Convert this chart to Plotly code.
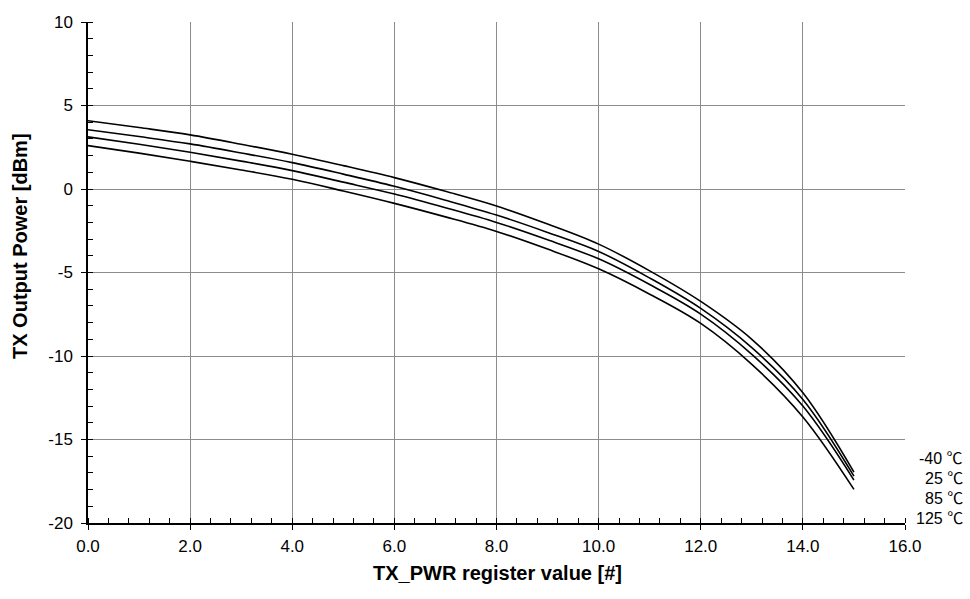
import plotly.graph_objects as go

tx_pwr = list(range(16))
p_m40 = [4.09, 3.68, 3.24, 2.68, 2.08, 1.40, 0.68, -0.14, -1.02, -2.10, -3.30, -4.90, -6.73, -9.00, -12.20, -16.95]
p_25 = [3.55, 3.14, 2.70, 2.16, 1.58, 0.89, 0.16, -0.67, -1.56, -2.60, -3.74, -5.33, -7.15, -9.50, -12.60, -17.19]
p_85 = [3.12, 2.68, 2.20, 1.67, 1.10, 0.41, -0.30, -1.12, -2.00, -3.04, -4.18, -5.72, -7.49, -9.90, -13.00, -17.43]
p_125 = [2.60, 2.15, 1.66, 1.14, 0.58, -0.12, -0.86, -1.67, -2.54, -3.60, -4.78, -6.30, -8.05, -10.50, -13.65, -17.99]
series_names = ["-40 \u2103", "25 \u2103", "85 \u2103", "125 \u2103"]
series = [p_m40, p_25, p_85, p_125]
y_ticks = [-20, -15, -10, -5, 0, 5, 10]
y_ticktext = ["-20", "-15", "-10", "-5", "0", "5", "10"]
x_ticks = [0, 2, 4, 6, 8, 10, 12, 14, 16]
x_ticktext = ["0.0", "2.0", "4.0", "6.0", "8.0", "10.0", "12.0", "14.0", "16.0"]

fig = go.Figure()
for name, vals in zip(series_names, series):
    fig.add_trace(go.Scatter(x=tx_pwr, y=vals, mode="lines", name=name,
                             line=dict(color="black", width=1.6, shape="spline", smoothing=1.0)))

W, H = 970, 599
L, R, T, B = 88, 65, 22, 76
PW, PH = W - L - R, H - T - B

font_main = "Liberation Sans, Arial, sans-serif"
fig.update_layout(
    width=W, height=H,
    margin=dict(l=L, r=R, t=T, b=B, autoexpand=False),
    paper_bgcolor="white", plot_bgcolor="white",
    showlegend=False,
    font=dict(family=font_main, size=17, color="black"),
)
fig.update_xaxes(
    range=[0, 16], tickvals=x_ticks, ticktext=x_ticktext, automargin=False,
    showgrid=True, gridcolor="#8c8c8c", gridwidth=1,
    showline=True, linecolor="black", linewidth=1.5,
    ticks="outside", ticklen=5, tickcolor="black", ticklabelstandoff=2,
    minor=dict(dtick=0.4, tick0=0, ticks="inside", ticklen=5, tickcolor="black", showgrid=False),
    zeroline=False,
)
fig.update_yaxes(
    range=[-20, 10], tickvals=y_ticks, ticktext=y_ticktext, automargin=False,
    showgrid=True, gridcolor="#8c8c8c", gridwidth=1,
    showline=True, linecolor="black", linewidth=1.5,
    ticks="outside", ticklen=5, tickcolor="black", ticklabelstandoff=5,
    minor=dict(dtick=1, tick0=0, ticks="inside", ticklen=5, tickcolor="black", showgrid=False),
    zeroline=False,
)

# axis titles placed as annotations (pixel positions)
fig.add_annotation(text="<b>TX_PWR register value [#]</b>", xref="paper", yref="paper",
                   x=(497 - L) / PW, y=-(573 - (T + PH)) / PH, xanchor="center", yanchor="middle",
                   showarrow=False, font=dict(size=20, color="black"))
fig.add_annotation(text="<b>TX Output Power [dBm]</b>", xref="paper", yref="paper",
                   x=(20 - L) / PW, y=1 - (246 - T) / PH, xanchor="center", yanchor="middle",
                   textangle=-90, showarrow=False, font=dict(size=20, color="black"))

label_y_px = [458, 478, 498, 518]
for name, ypx in zip(series_names, label_y_px):
    fig.add_annotation(text=name, xref="paper", yref="paper",
                       x=(965 - L) / PW, xanchor="right",
                       y=1 - (ypx - T) / PH, yanchor="middle",
                       showarrow=False,
                       font=dict(size=16, color="black", family="Liberation Sans, Noto Sans CJK JP, DejaVu Sans"))

fig.write_html("out.html", config={"displayModeBar": False},
               post_script="document.body.style.margin='0';document.body.style.overflow='hidden';")
